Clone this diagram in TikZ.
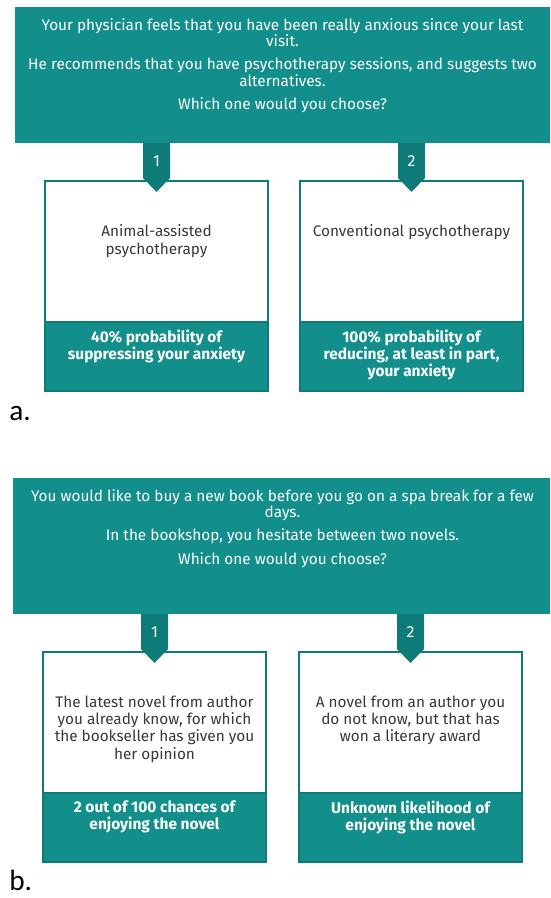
\documentclass[tikz,border=0pt]{standalone}
\usepackage{fontspec}
\setmainfont{Fira Sans}
\newfontfamily\labelfont{Carlito}
\usetikzlibrary{positioning}
\definecolor{Teal}{HTML}{128E8B}
\definecolor{DTeal}{HTML}{0F7B79}
\definecolor{Ink}{HTML}{383838}
\NewDocumentCommand{\DrawStem}{O{0} O{0} O{a} m}{
    
    \begin{scope}[shift={(#1,#2)}]
        \fill[Teal] (0,0) rectangle (550-#1,136);
        \node[headtext, anchor=north] (#3head) at (282.5-#1,11) {#4};
    \end{scope}
}
\NewDocumentCommand{\DrawChoice}{O{0} O{0} O{1} O{a1} m m}{
    
    \begin{scope}[shift={(#1,#2)}]
        \fill[Teal] (0,141) rectangle (223,210);
        \draw[DTeal, line width=1.5pt] (0,0) rectangle (223,210);
        \draw[DTeal, line width=0.8pt] (0,141) -- (223,141);
        \fill[DTeal] (98,-38) -- (125,-38) -- (125,-3) -- (111.5,11) -- (98,-3) -- cycle;
        \node[white, font=\fontsize{12}{14}\selectfont, inner sep=0pt] (#4num) at (111.5,-20) {#3};
        \node[choicetext, anchor=north] (#4text) at (111.5,43.5) {#5};
        \node[oddstext, anchor=north] (#4odds) at (111.5,7.5) {#6};
    \end{scope}
}

\begin{document}
\begin{tikzpicture}[x=0.75pt, y=-0.75pt,
    headtext/.style={white, align=center, font=\fontsize{11.5}{12.4}\selectfont, inner sep=0pt},
    choicetext/.style={Ink, align=center, font=\fontsize{11.5}{13}\selectfont, inner sep=0pt},
    oddstext/.style={white, align=center, font=\fontsize{11.6}{12.75}\selectfont\bfseries, inner sep=0pt, yshift=-141*0.75pt},
    panellabel/.style={anchor=base west, font=\labelfont\fontsize{22}{24}\selectfont, inner sep=0pt}]

    \useasboundingbox (0,0) rectangle (550,898);

    % a.
    \DrawStem[15][7][a]{Your physician feels that you have been really anxious since your last\\visit.\\[5pt]He recommends that you have psychotherapy sessions, and suggests two\\alternatives.\\[5pt]Which one would you choose?}
    \DrawChoice[45][181][1][a1]{Animal-assisted\\psychotherapy}{40\% probability of\\suppressing your anxiety}
    \DrawChoice[300][181][2][a2]{Conventional psychotherapy}{100\% probability of\\reducing, at least in part,\\your anxiety}
    \node[panellabel] (labelA) at (9,420) {a.};

    % b.
    \DrawStem[13][478][b]{You would like to buy a new book before you go on a spa break for a few\\days.\\[5pt]In the bookshop, you hesitate between two novels.\\[5pt]Which one would you choose?}
    \DrawChoice[43][652][1][b1]{The latest novel from author\\you already know, for which\\the bookseller has given you\\her opinion}{2 out of 100 chances of\\enjoying the novel}
    \DrawChoice[299][652][2][b2]{A novel from an author you\\do not know, but that has\\won a literary award}{Unknown likelihood of\\enjoying the novel}
    \node[panellabel] (labelB) at (9,890) {b.};
\end{tikzpicture}
\end{document}
